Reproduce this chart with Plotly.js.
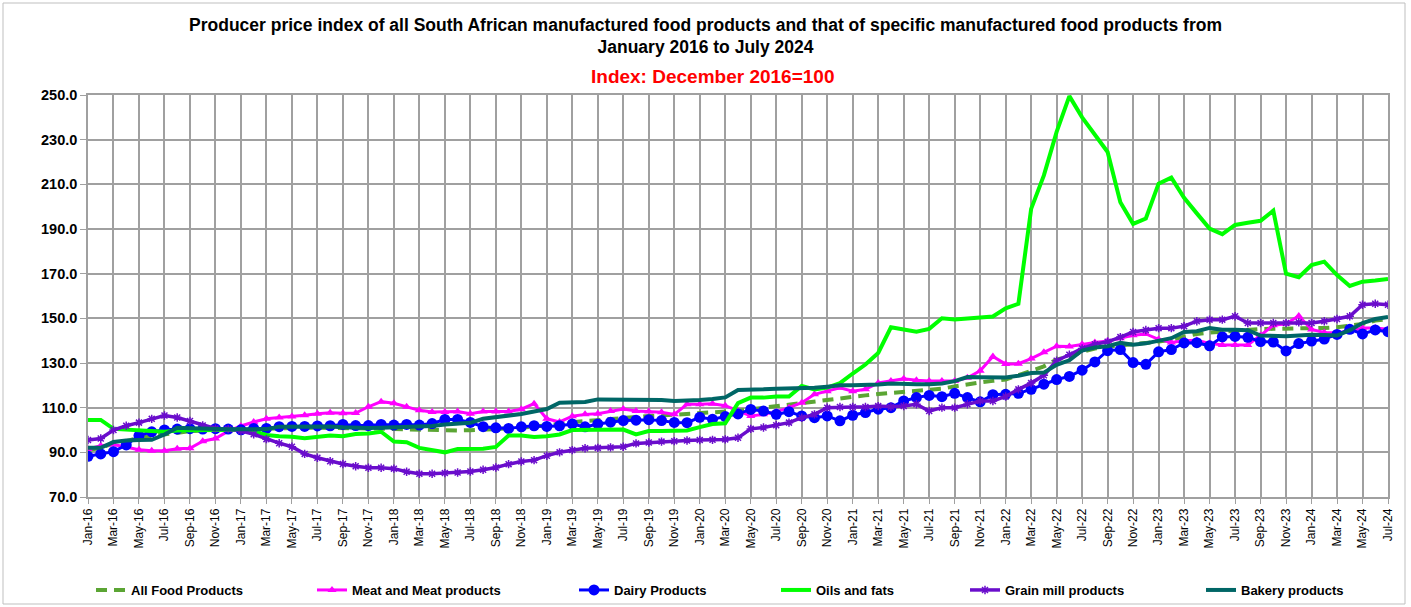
<!DOCTYPE html>
<html>
<head>
<meta charset="utf-8">
<script src="https://cdn.plot.ly/plotly-3.0.1.min.js"></script>
<style>
html,body{margin:0;padding:0;background:#fff;}
#chart{width:1411px;height:607px;}
</style>
</head>
<body>
<div id="chart"></div>
<script>
// Month labels Jan-16 .. Jul-24
const monthNames = ["Jan","Feb","Mar","Apr","May","Jun","Jul","Aug","Sep","Oct","Nov","Dec"];
const months = [];
for (let y = 16; y <= 24; y++) {
  for (let m = 0; m < 12; m++) {
    if (y === 24 && m > 6) break;
    months.push(monthNames[m] + "-" + y);
  }
}

const allFood = [91,92,94,95,96.5,97.3,98.3,99,99.5,99.8,100,100,100.2,100.4,100.5,100.7,100.8,101,101,101,101,100.9,100.8,100.6,100.4,100.2,100,99.9,99.8,99.8,99.9,100.1,100.3,100.6,101,101.5,102,102.8,103.5,104,104.5,105,105.5,106,106.3,106.5,106.8,107.2,107.5,107.8,108,108.6,109.3,110,110.7,111.3,112,112.8,113.8,114.3,115,115.5,116.1,116.6,117.1,117.5,118,118.5,119.5,120.5,121.3,122,122.6,124.5,126.5,128.5,131.5,133,135,136.5,137.3,138,138.5,139,139.6,140.3,141.8,143,143.6,144,144.5,145,145.2,145.3,145.3,145.4,145.4,145.7,146,146.6,147.5,149,149.7];

const meat = [91.5,93,93.5,92.5,91.2,90.7,90.7,91.6,91.8,95,96.2,99.5,101.8,103.6,105,105.6,106,106.6,107.3,107.7,107.5,107.6,110.4,112.7,112,110.4,108.8,108.1,108.1,108.3,107.3,108.3,108.3,108.3,109.3,111.8,105,103.6,106.2,107,107.3,108.5,109.4,108.5,108.3,107.9,107,111.5,111.5,111.7,110.9,108.5,106.3,107,108.1,110,112.2,116,117.4,118.9,117.4,118.2,121.1,121.9,122.9,122.3,121.9,121.9,121.9,123.4,126.5,132.9,129.5,129.7,132,134.8,137.5,137.4,138.4,139.2,139.8,141.1,142.4,143,140.6,139.2,140,140.2,138.8,138.1,138.1,138.1,142.4,146.9,147.6,151.1,145,143.7,143.6,144.2,145.7,145.7,145.1];

const dairy = [88.2,89.3,90.3,93.3,97.5,99.2,100,100.4,100.6,100.4,100.6,100.4,100.1,100.7,100.7,101.5,101.6,101.6,101.8,101.9,102.5,102,102,102.5,102.2,102.5,102.2,102.9,104.7,104.7,103.4,101.5,101,100.7,101.4,101.9,101.6,101.9,102.7,101.4,102.7,103.5,104.2,104.4,104.6,104.2,103.4,103.3,105.7,104.8,106,107.2,109.2,108.5,107,108.2,106.3,105.5,106.3,104.1,106.6,107.8,109.3,110,113,114.5,115.5,114.9,116.4,114.5,112.6,115.8,116,116.4,118.2,120.5,122.6,124,126.8,130.5,135.5,136,130.2,129.4,135,136,139,139.1,137.7,141.7,141.9,141.5,139.6,139.4,135.4,138.7,139.8,140.7,142.8,145.1,143,144.8,144];

const oils = [104.5,104.5,100.5,100.2,100,99.5,99.2,99.8,100,100,100,100,100.2,99.5,97.8,97.2,97,96.3,96.8,97.5,97.2,98.2,98.4,99.2,94.8,94.5,92,90.8,90,91.5,91.5,91.6,92.4,97.5,97.5,96.9,97.2,98,100,100,100,100,100.2,98,99.5,99.5,99.5,99.8,101.3,102.7,103,112,114.5,114.5,115,115,119.7,118.2,119,121,125.3,129.3,134.5,146,145,144,145.3,150,149.5,150,150.2,150.8,154.5,156.5,199,214,233.5,249.5,240,232,224.5,202,192.3,194.7,210.3,213,204,197,190.2,187.7,191.8,192.8,193.7,198.2,170,168.4,173.9,175.4,169.4,164.5,166.4,166.9,167.6];

const grain = [95.5,96.2,100,101.9,103.3,105,106.5,105.6,104,102,100.7,100.4,99.6,98.1,95.9,94.1,92.5,89.3,87.6,86,84.8,83.8,83.1,83.1,82.7,81.3,80.4,80.4,80.7,81,81.4,82.2,83.2,84.7,85.9,86.5,88.5,90,91,91.8,92,92.2,92.5,94,94.4,94.8,95,95.3,95.5,95.6,95.8,96.5,100.5,101.1,102.1,103.3,105.5,107,110,110.3,110.3,110.3,110.7,110.4,110.7,111.5,108.5,110,110,111.5,113,113,115,118.2,121,124.5,131,133.7,136.5,138.4,139.5,141.6,143.9,144.8,145.6,145.6,146.5,148.7,149.4,149.4,150.9,147.9,147.9,147.9,147.9,148.2,147.9,148.7,149.7,150.9,156.1,156.5,156.1];

const bakery = [92,92,94.6,95.3,95.5,95.6,98,101,100.8,100.5,100.3,100.3,100.3,100.3,100.4,101.5,101.5,101.5,101.8,101.6,101.2,100.9,100.9,101,101.2,101.3,101.6,101.8,102.5,102.8,103.2,105,105.7,106.1,107.2,108.3,109.4,112.2,112.2,112.5,113.7,113.7,113.7,113.6,113.5,113.4,113,113,113.4,113.9,114.6,117.9,117.9,118.2,118.5,118.6,118.9,118.9,119.4,120,120,120,120.4,120.8,120.5,120.5,120.5,120.8,121.9,123.7,123.6,123.5,123.5,124.3,125.5,125.7,129.2,131.2,135.6,136.9,137.5,139,138.2,138.8,140,141.1,143.9,144.2,145.7,144.9,144.9,144.7,142.3,142,142,142.3,142.7,142.5,142.3,144.7,147.9,149.7,150.6];

const seriesNames = ["All Food Products","Meat and Meat products","Dairy Products","Oils and fats","Grain mill products","Bakery products"];

const xIdx = months.map((_, i) => i);
const tickVals = xIdx.filter(i => i % 2 === 0);
const tickText = tickVals.map(i => months[i]);

const L = 88, R = 1388, T = 95, B = 497;
const px2paperX = p => (p - L) / (R - L);
const px2paperY = p => (B - p) / (B - T);

function mk(name, y, line, marker, legendId) {
  const t = {
    x: xIdx, y: y, name: name, type: 'scatter',
    mode: marker ? 'lines+markers' : 'lines',
    line: line,
    legend: legendId,
    customdata: months,
    hovertemplate: '%{customdata}: %{y:.1f}<extra>' + name + '</extra>'
  };
  if (marker) t.marker = marker;
  return t;
}

const traces = [
  mk(seriesNames[0], allFood, {color:'#5BA534', width:4, dash:'11px,7px'}, null, 'legend'),
  mk(seriesNames[1], meat, {color:'#FF00FF', width:3}, {symbol:'triangle-up', size:8, color:'#FF00FF'}, 'legend2'),
  mk(seriesNames[2], dairy, {color:'#0000FF', width:3}, {symbol:'circle', size:11, color:'#0000FF'}, 'legend3'),
  mk(seriesNames[3], oils, {color:'#00FF00', width:4}, null, 'legend4'),
  mk(seriesNames[4], grain, {color:'#6A0DCC', width:3.5}, {symbol:'asterisk-open', size:7, color:'#6A0DCC', line:{color:'#6A0DCC', width:1.5}}, 'legend5'),
  mk(seriesNames[5], bakery, {color:'#006666', width:4}, null, 'legend6')
];

const legendFont = {family:'"Liberation Sans Narrow", "Arial Narrow", "Liberation Sans", Arial, sans-serif', size:13, color:'#000', weight:'bold'};
const textStarts = [133, 354, 616, 818, 1007, 1243];
const legendY = px2paperY(590);
const legendIds = ['legend','legend2','legend3','legend4','legend5','legend6'];

const layout = {
  width: 1411, height: 607,
  margin: {l: L, r: 1411 - R, t: T, b: 607 - B, pad: 0, autoexpand: false},
  paper_bgcolor: '#fff', plot_bgcolor: '#fff',
  font: {family:'"Liberation Sans", Arial, sans-serif', color:'#000'},
  title: {
    text: '<b>Producer price index of all South African manufactured food products and that of specific manufactured food products from<br>January 2016 to July 2024</b>',
    x: 0.5, xref: 'container', xanchor: 'center',
    y: 1 - 30.5/607, yref: 'container', yanchor: 'middle',
    font: {family:'"Liberation Sans", Arial, sans-serif', size:17.5, color:'#000'}
  },
  annotations: [{
    text: '<b>Index: December 2016=100</b>',
    xref: 'paper', yref: 'paper', x: px2paperX(712), y: px2paperY(76),
    xanchor: 'center', yanchor: 'middle', showarrow: false,
    font: {family:'"Liberation Sans", Arial, sans-serif', size:19, color:'#FF0000'}
  }],
  xaxis: {
    range: [0, 102], tickvals: tickVals, ticktext: tickText, tickangle: -90,
    showgrid: true, gridcolor: '#A0A0A0', gridwidth: 1.5,
    showline: true, linecolor: '#A0A0A0', linewidth: 1.5, mirror: true,
    ticks: 'outside', ticklen: 5, tickcolor: '#A0A0A0', automargin: false,
    tickfont: {size: 12, color:'#000'}, zeroline: false, fixedrange: true
  },
  yaxis: {
    range: [70, 250], dtick: 20, tick0: 70, tickformat: '.1f',
    showgrid: true, gridcolor: '#A0A0A0', gridwidth: 1.5,
    showline: true, linecolor: '#A0A0A0', linewidth: 1.5, mirror: true,
    ticks: 'outside', ticklen: 6, tickcolor: '#A0A0A0', automargin: false,
    tickfont: {size: 14.5, color:'#000', weight:'bold'}, zeroline: false, fixedrange: true
  },
  shapes: [{
    type: 'rect', xref: 'paper', yref: 'paper',
    x0: px2paperX(3), x1: px2paperX(1405), y0: px2paperY(604), y1: px2paperY(3),
    line: {color: '#BFBFBF', width: 1}, fillcolor: 'rgba(0,0,0,0)', layer: 'below'
  }],
  showlegend: true
};

legendIds.forEach((id, k) => {
  layout[id] = {
    orientation: 'h', x: px2paperX(textStarts[k] - 42), xanchor: 'left',
    y: legendY, yanchor: 'middle', xref: 'paper', yref: 'paper',
    font: legendFont, bgcolor: 'rgba(0,0,0,0)', borderwidth: 0, itemwidth: 30
  };
});

Plotly.newPlot('chart', traces, layout, {displayModeBar: false, responsive: false});
</script>
</body>
</html>
